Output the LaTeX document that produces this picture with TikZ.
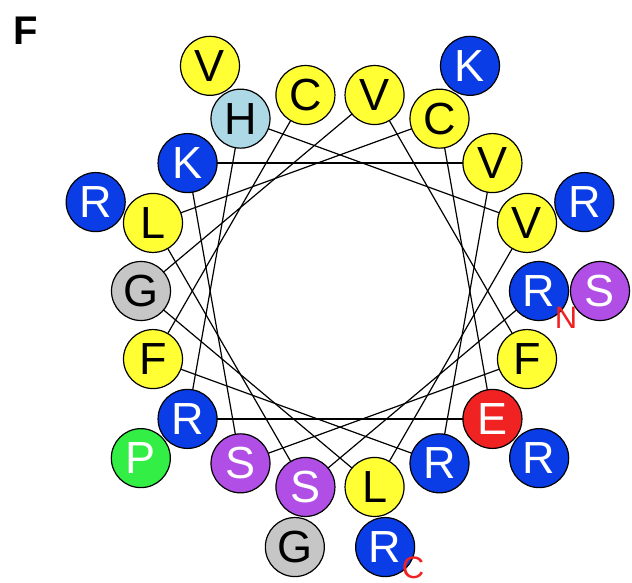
\documentclass[tikz,border=0pt]{standalone}
\usepackage{fontspec}
\setmainfont{Liberation Sans}
\definecolor{cyel}{HTML}{FFFF33}
\definecolor{cblu}{HTML}{0A3DE6}
\definecolor{cpur}{HTML}{B04EE6}
\definecolor{cgrn}{HTML}{33EE44}
\definecolor{cgry}{HTML}{C6C6C6}
\definecolor{clbl}{HTML}{ADD8E6}
\definecolor{cred}{HTML}{F02222}
\definecolor{lblred}{HTML}{F02020}
\tikzset{
  res/.style={circle,draw=black,line width=1.2pt,minimum size=59pt,inner sep=0pt,
    font=\fontsize{45}{45}\selectfont},
  yel/.style={res,fill=cyel,text=black},
  blu/.style={res,fill=cblu,text=white},
  pur/.style={res,fill=cpur,text=white},
  grn/.style={res,fill=cgrn,text=white},
  gry/.style={res,fill=cgry,text=black},
  lbl/.style={res,fill=clbl,text=black},
  red/.style={res,fill=cred,text=white},
  link/.style={draw=black,line width=1.2pt},
  endlabel/.style={text=lblred,font=\fontsize{31}{31}\selectfont,inner sep=0pt}
}
\begin{document}
\begin{tikzpicture}[x=1pt,y=-1pt]
\useasboundingbox (0,0) rectangle (632,583);
% positions: inner ring r=199, outer ring r=260, center (340,291)
\foreach \i/\a in {1/0,2/260,3/160,4/60,5/320,6/220,7/120,8/20,9/280,10/180,11/80,12/340,13/240,14/140,15/40,16/300,17/200,18/100}
  \coordinate (p\i) at ({340+199*cos(\a)},{291-199*sin(\a)});
\foreach \i/\a in {19/0,20/260,21/160,22/60,23/320,24/220,25/120,26/20,27/280}
  \coordinate (p\i) at ({340+260*cos(\a)},{291-260*sin(\a)});
% outer ring
\node[pur] (r19) at (p19) {S};
\node[gry] (r20) at (p20) {G};
\node[blu] (r21) at (p21) {R};
\node[blu] (r22) at (p22) {K};
\node[blu] (r23) at (p23) {R};
\node[grn] (r24) at (p24) {P};
\node[yel] (r25) at (p25) {V};
\node[blu] (r26) at (p26) {R};
\node[blu] (r27) at (p27) {R};
% connectors
\foreach \i [evaluate=\i as \j using int(\i+1)] in {1,...,17}
  \draw[link] (p\i) -- (p\j);
% inner ring
\node[blu] (r1) at (p1) {R};
\node[pur] (r2) at (p2) {S};
\node[yel] (r3) at (p3) {L};
\node[yel] (r4) at (p4) {C};
\node[red] (r5) at (p5) {E};
\node[blu] (r6) at (p6) {R};
\node[lbl] (r7) at (p7) {H};
\node[yel] (r8) at (p8) {V};
\node[yel] (r9) at (p9) {L};
\node[gry] (r10) at (p10) {G};
\node[yel] (r11) at (p11) {V};
\node[yel] (r12) at (p12) {F};
\node[pur] (r13) at (p13) {S};
\node[blu] (r14) at (p14) {K};
\node[yel] (r15) at (p15) {V};
\node[blu] (r16) at (p16) {R};
\node[yel] (r17) at (p17) {F};
\node[yel] (r18) at (p18) {C};
% labels
\node[endlabel] (nlab) at (566,318) {N};
\node[endlabel] (clab) at (413,568) {C};
\node[inner sep=0pt,font=\fontsize{40}{40}\selectfont\bfseries] (panel) at (25.5,30.5) {F};
\end{tikzpicture}
\end{document}
